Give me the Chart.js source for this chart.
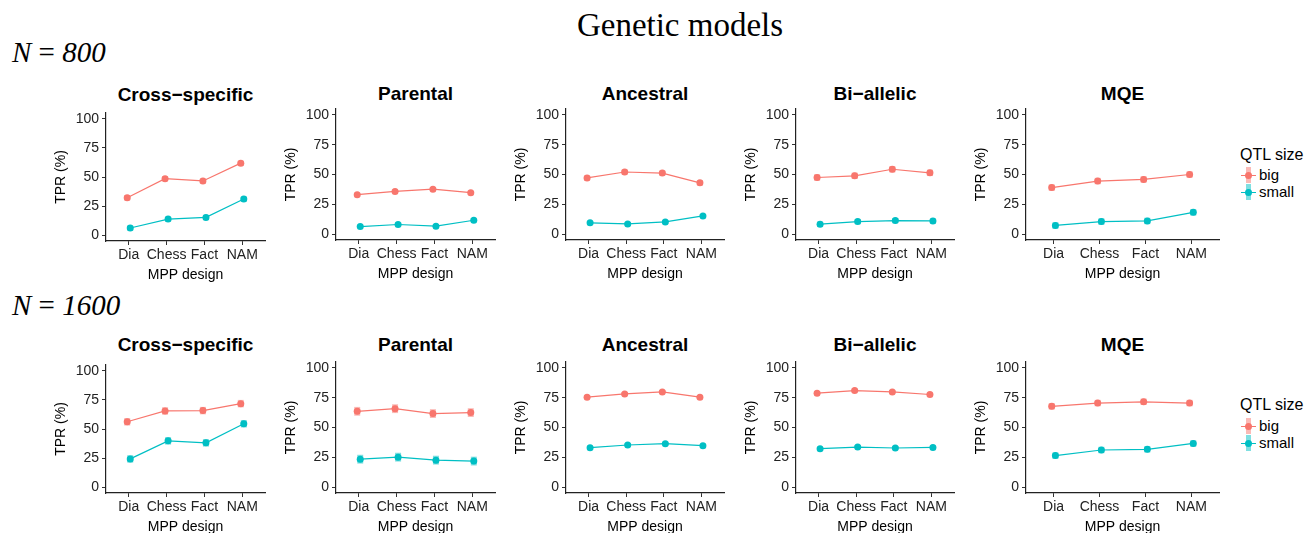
<!DOCTYPE html>
<html><head><meta charset="utf-8">
<script src="https://cdn.jsdelivr.net/npm/chart.js@4.4.1/dist/chart.umd.min.js"></script>
<style>
body{margin:0;background:#fff;width:1307px;height:533px;position:relative;overflow:hidden;font-family:"Liberation Sans",Arial,sans-serif;color:#000;}
.abs{position:absolute;white-space:nowrap;}
#title{left:0;width:1360px;top:4px;text-align:center;font-family:"Liberation Serif",serif;font-size:33px;line-height:42px;}
.nlab{font-family:"Liberation Serif",serif;font-size:29px;line-height:32px;left:12px;}
.ptitle{font-weight:bold;font-size:19px;line-height:22px;text-align:center;}
.legt{font-size:16px;line-height:18px;}
.legi{font-size:15px;line-height:16px;}
canvas{position:absolute;}
</style>
</head><body>
<div id="title" class="abs">Genetic models</div>
<div class="abs nlab" style="top:36px"><i>N</i> = <i>800</i></div>
<div class="abs nlab" style="top:289px"><i>N</i> = <i>1600</i></div>
<script>
// ---------- data ----------
const categories = ['Dia', 'Chess', 'Fact', 'NAM'];
const models = ['Cross\u2212specific', 'Parental', 'Ancestral', 'Bi\u2212allelic', 'MQE'];
const seriesNames = ['big', 'small'];
const rowLabels = ['N = 800', 'N = 1600'];
const yTicks = [0, 25, 50, 75, 100];

// TPR (%) per model (rows: models in order above; cols: categories)
const n800Big = [
  [32.2, 48.6, 46.6, 61.9],
  [33.1, 35.8, 37.7, 34.7],
  [47.1, 52.1, 51.2, 43.0],
  [47.5, 48.9, 54.4, 51.4],
  [39.0, 44.5, 45.9, 50.0]
];
const n800Small = [
  [6.2, 13.8, 15.3, 31.1],
  [6.3, 8.0, 6.6, 11.6],
  [9.4, 8.5, 10.2, 15.2],
  [8.3, 10.5, 11.3, 11.0],
  [7.2, 10.5, 11.0, 18.2]
];
const n800BigErr = [
  [2.3, 2.2, 2.2, 2.2],
  [1.6, 1.6, 1.6, 1.6],
  [2.2, 2.2, 2.2, 2.2],
  [2.7, 2.7, 2.7, 2.7],
  [2.7, 2.7, 2.7, 2.7]
];
const n800SmallErr = [
  [2.2, 2.2, 2.2, 2.2],
  [1.6, 1.6, 1.6, 1.6],
  [1.6, 1.6, 1.6, 1.6],
  [2.2, 2.2, 2.2, 2.2],
  [2.7, 2.7, 2.7, 2.7]
];
const n1600Big = [
  [56.2, 65.5, 65.8, 71.8],
  [63.6, 65.8, 61.7, 62.5],
  [75.5, 78.2, 79.9, 75.5],
  [78.8, 81.0, 79.9, 77.7],
  [67.8, 70.5, 71.6, 70.5]
];
const n1600Small = [
  [24.3, 39.8, 38.1, 54.5],
  [23.4, 25.1, 22.6, 21.8],
  [33.1, 35.3, 36.4, 34.7],
  [32.2, 33.6, 32.8, 33.3],
  [26.4, 31.1, 31.7, 36.6]
];
const n1600BigErr = [
  [3.2, 3.2, 3.2, 3.2],
  [3.7, 3.7, 3.7, 3.7],
  [1.6, 1.6, 1.6, 1.6],
  [1.6, 1.6, 1.6, 1.6],
  [2.7, 2.7, 2.7, 2.7]
];
const n1600SmallErr = [
  [3.2, 3.2, 3.2, 3.2],
  [3.7, 3.7, 3.7, 3.7],
  [1.6, 1.6, 1.6, 1.6],
  [1.6, 1.6, 1.6, 1.6],
  [2.7, 2.7, 2.7, 2.7]
];

// ---------- layout ----------
const colors = {big: '#F8766D', small: '#00BFC4'};
const errColors = {big: 'rgba(248,118,109,0.5)', small: 'rgba(0,191,196,0.5)'};
const plotLeft = [106, 336, 566, 796, 1026];
const plotRight = [265, 495, 724, 954, 1219];
const plotTop = [[111, 107, 107, 107, 107], [363, 360, 360, 360, 360]];
const plotBottom = [[241, 240, 240, 240, 240], [493, 493, 493, 493, 493]];
const titleY = [[95, 94, 94, 94, 94], [345, 345, 345, 345, 345]];
const YW = 60, XH = 43, PADT = 2, PADR = 10;
const dodge = 0.04;

const errorBars = {
  id: 'errorBars',
  beforeDatasetsDraw(chart) {
    const ctx = chart.ctx, ys = chart.scales.y;
    chart.data.datasets.forEach((ds, i) => {
      const meta = chart.getDatasetMeta(i);
      ctx.save();
      ctx.strokeStyle = ds.errColor;
      ctx.lineWidth = 6;
      meta.data.forEach((pt, j) => {
        const v = ds.data[j].y, e = ds.errors[j];
        ctx.beginPath();
        ctx.moveTo(pt.x, ys.getPixelForValue(v - e));
        ctx.lineTo(pt.x, ys.getPixelForValue(v + e));
        ctx.stroke();
      });
      ctx.restore();
    });
  }
};

const font = {family: '"Liberation Sans", Arial, sans-serif', size: 14};

function makePanel(r, m, big, small, bigErr, smallErr) {
  const pl = plotLeft[m], pr = plotRight[m], pt = plotTop[r][m], pb = plotBottom[r][m];
  const cv = document.createElement('canvas');
  const w = pr - pl + YW + PADR, h = pb - pt + PADT + XH;
  cv.width = w; cv.height = h;
  cv.style.left = (pl - YW) + 'px';
  cv.style.top = (pt - PADT) + 'px';
  document.body.appendChild(cv);

  const t = document.createElement('div');
  t.className = 'abs ptitle';
  t.style.left = (pl - 20) + 'px'; t.style.width = (pr - pl + 40) + 'px';
  t.style.top = (titleY[r][m] - 11) + 'px';
  t.textContent = models[m];
  document.body.appendChild(t);

  const mk = (vals, off) => vals.map((v, i) => ({x: i + 1 + off, y: v}));
  new Chart(cv, {
    type: 'line',
    data: {
      datasets: [
        {label: seriesNames[0], data: mk(big, -dodge), errors: bigErr, errColor: errColors.big,
         borderColor: colors.big, backgroundColor: colors.big, borderWidth: 1.2,
         pointRadius: 3.5, pointBorderWidth: 0, tension: 0},
        {label: seriesNames[1], data: mk(small, dodge), errors: smallErr, errColor: errColors.small,
         borderColor: colors.small, backgroundColor: colors.small, borderWidth: 1.2,
         pointRadius: 3.5, pointBorderWidth: 0, tension: 0}
      ]
    },
    options: {
      responsive: false, animation: false, devicePixelRatio: 1,
      layout: {padding: {top: PADT, right: PADR, left: 0, bottom: 0}},
      plugins: {legend: {display: false}, tooltip: {enabled: false}, title: {display: false}},
      scales: {
        x: {
          type: 'linear', min: 0.4, max: 4.6,
          afterBuildTicks: s => { s.ticks = categories.map((c, i) => ({value: i + 1})); },
          afterFit: s => { s.height = XH; s.paddingLeft = 0; s.paddingRight = 0; },
          ticks: {autoSkip: false, maxRotation: 0, padding: 2, color: '#222', font: font,
                  callback: v => categories[Math.round(v) - 1]},
          grid: {display: true, drawOnChartArea: false, drawTicks: true, tickLength: 4, color: '#333', lineWidth: 1},
          border: {display: true, color: '#222', width: 1.2},
          title: {display: true, text: 'MPP design', color: '#000', font: font, padding: 0}
        },
        y: {
          type: 'linear', min: -5, max: 105,
          afterBuildTicks: s => { s.ticks = yTicks.map(v => ({value: v})); },
          afterFit: s => { s.width = YW; s.paddingTop = 0; s.paddingBottom = 0; },
          ticks: {padding: 3, color: '#222', font: font},
          grid: {display: true, drawOnChartArea: false, drawTicks: true, tickLength: 4, color: '#333', lineWidth: 1},
          border: {display: true, color: '#222', width: 1.2},
          title: {display: true, text: 'TPR (%)', color: '#000', font: font, padding: 7}
        }
      }
    },
    plugins: [errorBars]
  });
}

for (let m = 0; m < 5; m++) {
  makePanel(0, m, n800Big[m], n800Small[m], n800BigErr[m], n800SmallErr[m]);
  makePanel(1, m, n1600Big[m], n1600Small[m], n1600BigErr[m], n1600SmallErr[m]);
}

// ---------- legends ----------
const legendPos = [{title: 155, items: [175, 192]}, {title: 405, items: [426, 443]}];
legendPos.forEach(lp => {
  const t = document.createElement('div');
  t.className = 'abs legt';
  t.style.left = '1240px'; t.style.top = (lp.title - 9) + 'px';
  t.textContent = 'QTL size';
  document.body.appendChild(t);
  seriesNames.forEach((s, i) => {
    const y = lp.items[i];
    const eb = document.createElement('div');
    eb.className = 'abs';
    Object.assign(eb.style, {left: '1246px', top: (y - 8) + 'px', width: '5px', height: '16px', background: errColors[s]});
    const ln = document.createElement('div');
    ln.className = 'abs';
    Object.assign(ln.style, {left: '1241px', top: (y - 0.5) + 'px', width: '15px', height: '1.2px', background: colors[s]});
    const pt = document.createElement('div');
    pt.className = 'abs';
    Object.assign(pt.style, {left: '1245px', top: (y - 3.5) + 'px', width: '7px', height: '7px', borderRadius: '50%', background: colors[s]});
    const tx = document.createElement('div');
    tx.className = 'abs legi';
    tx.style.left = '1259px'; tx.style.top = (y - 8) + 'px';
    tx.textContent = s;
    [eb, ln, pt, tx].forEach(e => document.body.appendChild(e));
  });
});
</script>
</body></html>
